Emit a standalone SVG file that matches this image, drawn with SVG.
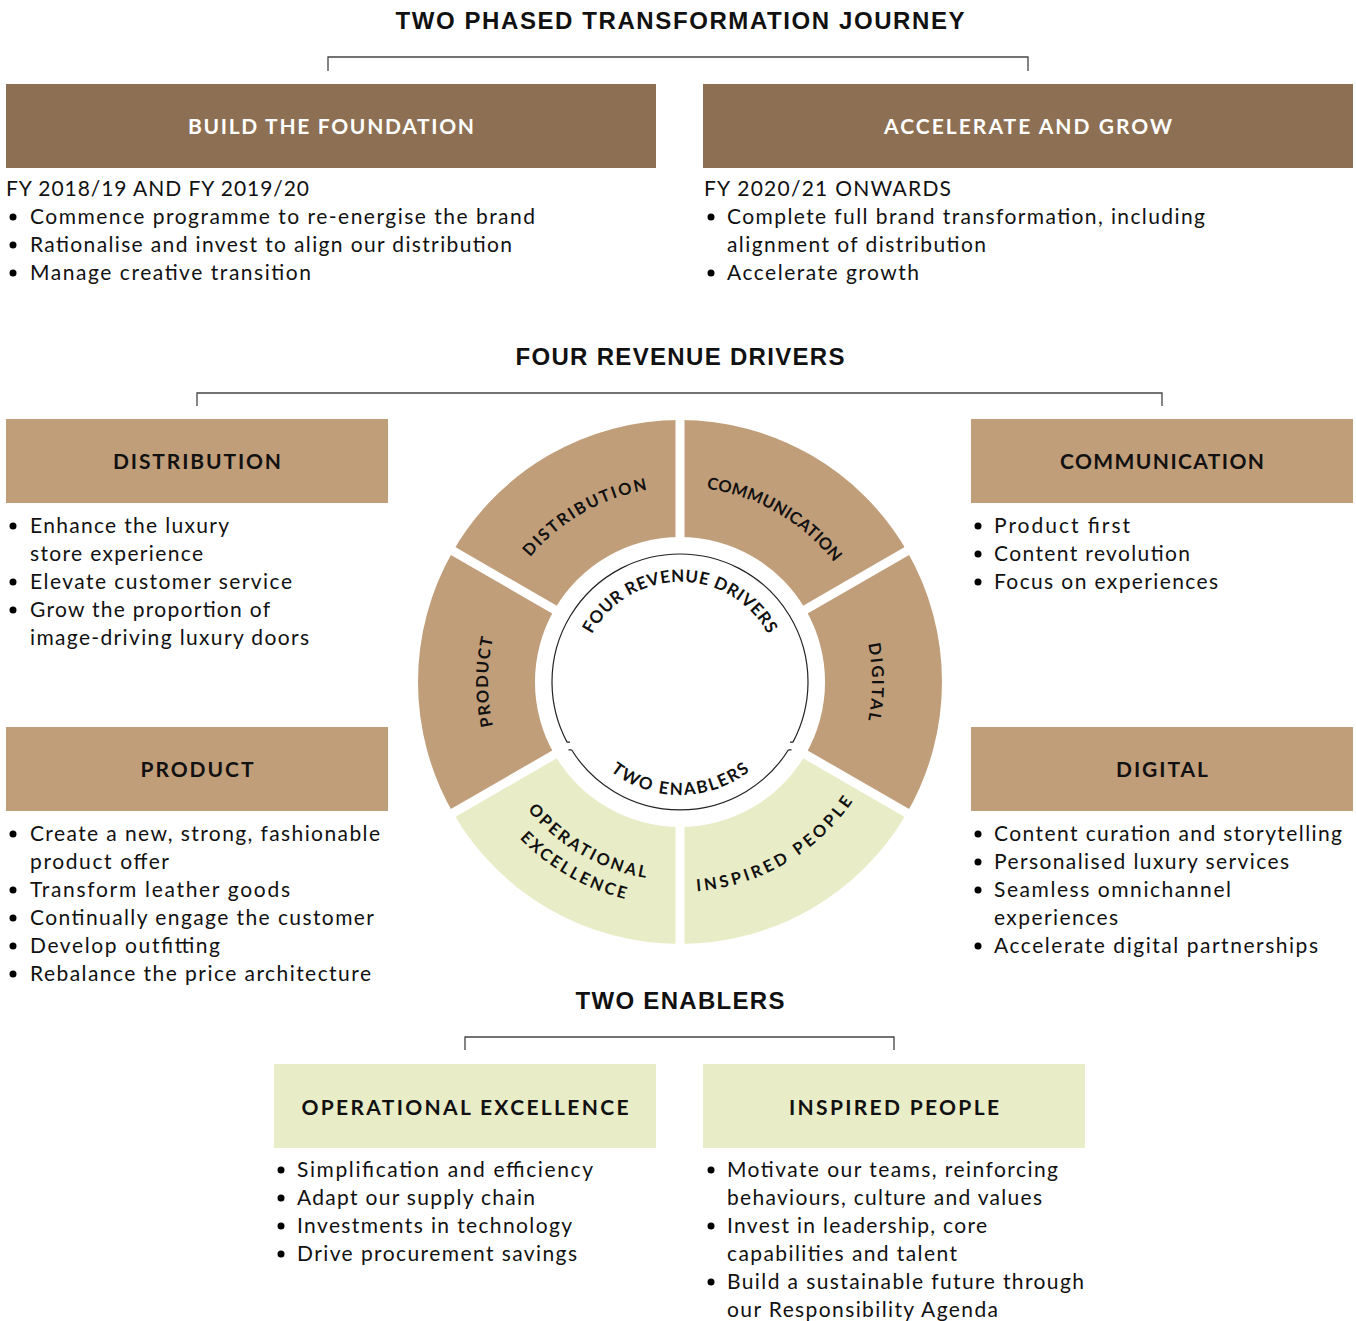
<svg xmlns="http://www.w3.org/2000/svg" width="1356" height="1321" viewBox="0 0 1356 1321">
<style>
.t{font-family:"Liberation Sans",Arial,sans-serif;font-weight:bold;font-size:24px;fill:#111;text-anchor:middle}
.h{font-family:Lato,"Liberation Sans",sans-serif;font-weight:700;font-size:21px;fill:#111;text-anchor:middle}
.hw{fill:#fff}
.b{font-family:Lato,"Liberation Sans",sans-serif;font-size:21px;fill:#111}
.r{font-family:Lato,"Liberation Sans",sans-serif;font-weight:700;font-size:16.5px;fill:#111}
.dk{fill:#8d6f53}
.tan{fill:#c19e7a}
.grn{fill:#e8ecc7}
.br{fill:none;stroke:#444;stroke-width:1.3}
.gap{stroke:#fff;stroke-width:9}
.ic{fill:none;stroke:#222;stroke-width:1.2}
</style>
<defs>
<path id="pProd" d="M584,848.3 A192,192 0 0 1 584,515.7"/>
<path id="pDig" d="M776,515.7 A192,192 0 0 1 776,848.3"/>
<path id="pDist" d="M496.8,615.3 A195,195 0 0 1 713.9,490"/>
<path id="pComm" d="M646.1,490 A195,195 0 0 1 863.2,615.3"/>
<path id="pInsp" d="M643.5,888.8 A210,210 0 0 0 877.3,753.8"/>
<path id="pOp1" d="M493.1,750 A199,199 0 0 0 714.6,878"/>
<path id="pOp2" d="M469.5,758.6 A224,224 0 0 0 718.9,902.6"/>
<path id="pFour" d="M581.5,664.6 A100,100 0 0 1 778.5,664.6"/>
<path id="pTwo" d="M573.8,720.6 A113,113 0 0 0 786.2,720.6"/>
</defs>
<rect width="1356" height="1321" fill="#fff"/>

<g id="connectors">
<path class="br" d="M328,71 V57 H1028 V71"/>
<path class="br" d="M197,406 V393 H1162 V406"/>
<path class="br" d="M465,1050 V1037 H894 V1050"/>
</g>

<g id="titles">
<text class="t" x="680" y="29" textLength="569">TWO PHASED TRANSFORMATION JOURNEY</text>
<text class="t" x="680" y="365" textLength="329">FOUR REVENUE DRIVERS</text>
<text class="t" x="680" y="1009" textLength="209">TWO ENABLERS</text>
</g>

<g id="build">
<rect class="dk" x="6" y="84" width="650" height="84"/>
<text class="h hw" x="331" y="134" textLength="286">BUILD THE FOUNDATION</text>
<text class="b" x="6" y="196" textLength="303">FY 2018/19 AND FY 2019/20</text>
<circle cx="13" cy="217" r="3.5"/><text class="b" x="30" y="224" textLength="505">Commence programme to re-energise the brand</text>
<circle cx="13" cy="245" r="3.5"/><text class="b" x="30" y="252" textLength="482">Rationalise and invest to align our distribution</text>
<circle cx="13" cy="273" r="3.5"/><text class="b" x="30" y="280" textLength="281">Manage creative transition</text>
</g>

<g id="accelerate">
<rect class="dk" x="703" y="84" width="650" height="84"/>
<text class="h hw" x="1028" y="134" textLength="288">ACCELERATE AND GROW</text>
<text class="b" x="704" y="196" textLength="247">FY 2020/21 ONWARDS</text>
<circle cx="711" cy="217" r="3.5"/><text class="b" x="727" y="224" textLength="478">Complete full brand transformation, including</text>
<text class="b" x="727" y="252" textLength="259">alignment of distribution</text>
<circle cx="711" cy="273" r="3.5"/><text class="b" x="727" y="280" textLength="192">Accelerate growth</text>
</g>

<g id="distribution">
<rect class="tan" x="6" y="419" width="382" height="84"/>
<text class="h" x="197" y="469" textLength="168">DISTRIBUTION</text>
<circle cx="13" cy="526" r="3.5"/><text class="b" x="30" y="533" textLength="199">Enhance the luxury</text>
<text class="b" x="30" y="561" textLength="173">store experience</text>
<circle cx="13" cy="582" r="3.5"/><text class="b" x="30" y="589" textLength="262">Elevate customer service</text>
<circle cx="13" cy="610" r="3.5"/><text class="b" x="30" y="617" textLength="240">Grow the proportion of</text>
<text class="b" x="30" y="645" textLength="279">image-driving luxury doors</text>
</g>

<g id="product">
<rect class="tan" x="6" y="727" width="382" height="84"/>
<text class="h" x="197" y="777" textLength="113">PRODUCT</text>
<circle cx="13" cy="834" r="3.5"/><text class="b" x="30" y="841" textLength="350">Create a new, strong, fashionable</text>
<text class="b" x="30" y="869" textLength="139">product offer</text>
<circle cx="13" cy="890" r="3.5"/><text class="b" x="30" y="897" textLength="260">Transform leather goods</text>
<circle cx="13" cy="918" r="3.5"/><text class="b" x="30" y="925" textLength="344">Continually engage the customer</text>
<circle cx="13" cy="946" r="3.5"/><text class="b" x="30" y="953" textLength="190">Develop outfitting</text>
<circle cx="13" cy="974" r="3.5"/><text class="b" x="30" y="981" textLength="341">Rebalance the price architecture</text>
</g>

<g id="communication">
<rect class="tan" x="971" y="419" width="382" height="84"/>
<text class="h" x="1162" y="469" textLength="204">COMMUNICATION</text>
<circle cx="978" cy="526" r="3.5"/><text class="b" x="994" y="533" textLength="136">Product first</text>
<circle cx="978" cy="554" r="3.5"/><text class="b" x="994" y="561" textLength="196">Content revolution</text>
<circle cx="978" cy="582" r="3.5"/><text class="b" x="994" y="589" textLength="224">Focus on experiences</text>
</g>

<g id="digital">
<rect class="tan" x="971" y="727" width="382" height="84"/>
<text class="h" x="1162" y="777" textLength="92">DIGITAL</text>
<circle cx="978" cy="834" r="3.5"/><text class="b" x="994" y="841" textLength="348">Content curation and storytelling</text>
<circle cx="978" cy="862" r="3.5"/><text class="b" x="994" y="869" textLength="295">Personalised luxury services</text>
<circle cx="978" cy="890" r="3.5"/><text class="b" x="994" y="897" textLength="237">Seamless omnichannel</text>
<text class="b" x="994" y="925" textLength="124">experiences</text>
<circle cx="978" cy="946" r="3.5"/><text class="b" x="994" y="953" textLength="324">Accelerate digital partnerships</text>
</g>

<g id="operational-excellence">
<rect class="grn" x="274" y="1064" width="382" height="84"/>
<text class="h" x="465" y="1115" textLength="327">OPERATIONAL EXCELLENCE</text>
<circle cx="281" cy="1170" r="3.5"/><text class="b" x="297" y="1177" textLength="296">Simplification and efficiency</text>
<circle cx="281" cy="1198" r="3.5"/><text class="b" x="297" y="1205" textLength="238">Adapt our supply chain</text>
<circle cx="281" cy="1226" r="3.5"/><text class="b" x="297" y="1233" textLength="275">Investments in technology</text>
<circle cx="281" cy="1254" r="3.5"/><text class="b" x="297" y="1261" textLength="280">Drive procurement savings</text>
</g>

<g id="inspired-people">
<rect class="grn" x="703" y="1064" width="382" height="84"/>
<text class="h" x="894" y="1115" textLength="210">INSPIRED PEOPLE</text>
<circle cx="711" cy="1170" r="3.5"/><text class="b" x="727" y="1177" textLength="331">Motivate our teams, reinforcing</text>
<text class="b" x="727" y="1205" textLength="315">behaviours, culture and values</text>
<circle cx="711" cy="1226" r="3.5"/><text class="b" x="727" y="1233" textLength="260">Invest in leadership, core</text>
<text class="b" x="727" y="1261" textLength="230">capabilities and talent</text>
<circle cx="711" cy="1282" r="3.5"/><text class="b" x="727" y="1289" textLength="357">Build a sustainable future through</text>
<text class="b" x="727" y="1317" textLength="271">our Responsibility Agenda</text>
</g>

<g id="wheel">
<g id="seg-communication"><path class="tan" d="M680,420 A262,262 0 0 1 906.9,551 L805.6,609.5 A145,145 0 0 0 680,537 Z"/></g>
<g id="seg-digital"><path class="tan" d="M906.9,551 A262,262 0 0 1 906.9,813 L805.6,754.5 A145,145 0 0 0 805.6,609.5 Z"/></g>
<g id="seg-inspired"><path class="grn" d="M906.9,813 A262,262 0 0 1 680,944 L680,827 A145,145 0 0 0 805.6,754.5 Z"/></g>
<g id="seg-operational"><path class="grn" d="M680,944 A262,262 0 0 1 453.1,813 L554.4,754.5 A145,145 0 0 0 680,827 Z"/></g>
<g id="seg-product"><path class="tan" d="M453.1,813 A262,262 0 0 1 453.1,551 L554.4,609.5 A145,145 0 0 0 554.4,754.5 Z"/></g>
<g id="seg-distribution"><path class="tan" d="M453.1,551 A262,262 0 0 1 680,420 L680,537 A145,145 0 0 0 554.4,609.5 Z"/></g>
<line class="gap" x1="680" y1="410" x2="680" y2="954"/>
<line class="gap" x1="915.6" y1="546" x2="444.4" y2="818"/>
<line class="gap" x1="915.6" y1="818" x2="444.4" y2="546"/>
<path class="ic" d="M567,742.1 A128,128 0 1 1 793,742.1"/>
<path class="ic" d="M571.5,749.8 A128,128 0 0 0 788.5,749.8"/>
<path class="ic" d="M567,742.1 h3 M571.5,749.8 h-3 M793,742.1 h-3 M788.5,749.8 h3"/>
<text class="r"><textPath href="#pProd" startOffset="50%" text-anchor="middle" textLength="89">PRODUCT</textPath></text>
<text class="r"><textPath href="#pDig" startOffset="50%" text-anchor="middle" textLength="77">DIGITAL</textPath></text>
<text class="r"><textPath href="#pDist" startOffset="50%" text-anchor="middle" textLength="138">DISTRIBUTION</textPath></text>
<text class="r"><textPath href="#pComm" startOffset="50%" text-anchor="middle" textLength="151">COMMUNICATION</textPath></text>
<text class="r"><textPath href="#pInsp" startOffset="50%" text-anchor="middle" textLength="186">INSPIRED PEOPLE</textPath></text>
<text class="r"><textPath href="#pOp1" startOffset="50%" text-anchor="middle" textLength="139">OPERATIONAL</textPath></text>
<text class="r"><textPath href="#pOp2" startOffset="50%" text-anchor="middle" textLength="123">EXCELLENCE</textPath></text>
<text class="r" style="font-size:17px"><textPath href="#pFour" startOffset="50%" text-anchor="middle" textLength="215">FOUR REVENUE DRIVERS</textPath></text>
<text class="r" style="font-size:17px"><textPath href="#pTwo" startOffset="50%" text-anchor="middle" textLength="150">TWO ENABLERS</textPath></text>
</g>
</svg>
